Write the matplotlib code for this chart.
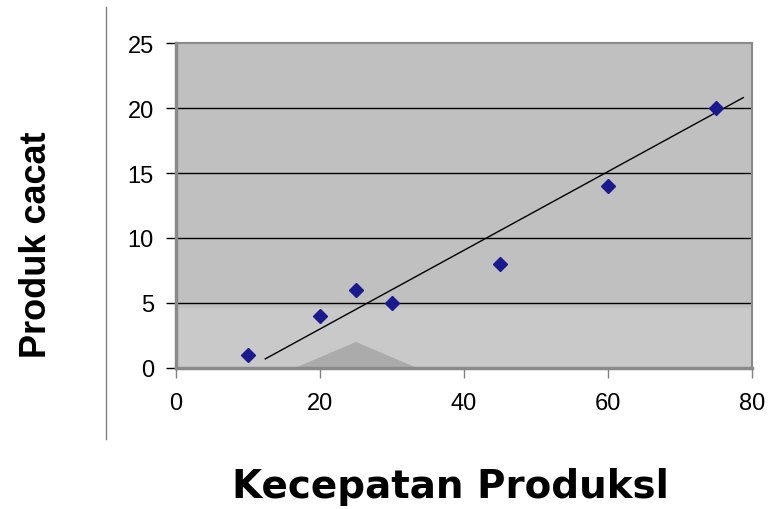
import matplotlib.pyplot as plt
from matplotlib.lines import Line2D
from matplotlib.patches import Polygon

# data
kecepatan = [10, 20, 25, 30, 45, 60, 75]
cacat = [1, 4, 6, 5, 8, 14, 20]
trend_x = [12.4, 78.8]
trend_y = [0.7, 20.8]
x_ticks = [0, 20, 40, 60, 80]
y_ticks = [0, 5, 10, 15, 20, 25]

fig = plt.figure(figsize=(7.76, 5.10), dpi=100)
ax = fig.add_axes([0.2268, 0.2765, 0.7422, 0.6372])
ax.set_facecolor('#c0c0c0')

# lighter band + peak of the scanned watermark
ax.axhspan(0, 4.6, color='#c9c9c9', zorder=0)
ax.add_patch(Polygon([[16.5, 0], [25, 2.0], [33.5, 0]], closed=True,
                     color='#ababab', lw=0, zorder=0.5))

for yv in y_ticks[1:-1]:
    ax.axhline(yv, color='black', lw=1, zorder=1)

ax.plot(trend_x, trend_y, color='black', lw=1, zorder=2)
ax.plot(kecepatan, cacat, 'D', color='#1a1a8c', markersize=7.5, zorder=3)

ax.set_xlim(0, 80)
ax.set_ylim(0, 25)
ax.set_xticks(x_ticks)
ax.set_yticks(y_ticks)
ax.tick_params(labelsize=17, direction='out', length=7, width=1)
ax.tick_params(axis='x', colors='#808080', labelcolor='black', pad=10)
ax.tick_params(axis='y', colors='black', pad=9)
for lbl in ax.get_xticklabels() + ax.get_yticklabels():
    lbl.set_family(['Liberation Sans', 'DejaVu Sans'])

for side in ['left', 'bottom']:
    ax.spines[side].set_color('#8a8a8a')
    ax.spines[side].set_linewidth(2.5)
for side in ['top', 'right']:
    ax.spines[side].set_color('#8a8a8a')
    ax.spines[side].set_linewidth(1.5)

fig.text(0.047, 0.52, 'Produk cacat', rotation=90, ha='center', va='center',
         fontsize=26, fontweight='bold',
         family=['Liberation Sans Narrow', 'Liberation Sans', 'DejaVu Sans'])
fig.text(0.581, 0.045, 'Kecepatan Produksl', ha='center', va='center',
         fontsize=28, fontweight='bold', family=['DejaVu Sans'])

# stray vertical line from the scan
fig.add_artist(Line2D([106 / 776, 106 / 776], [1 - 8 / 510, 1 - 440 / 510],
                      color='#808080', lw=1))

fig.savefig('out.png', dpi=100)
